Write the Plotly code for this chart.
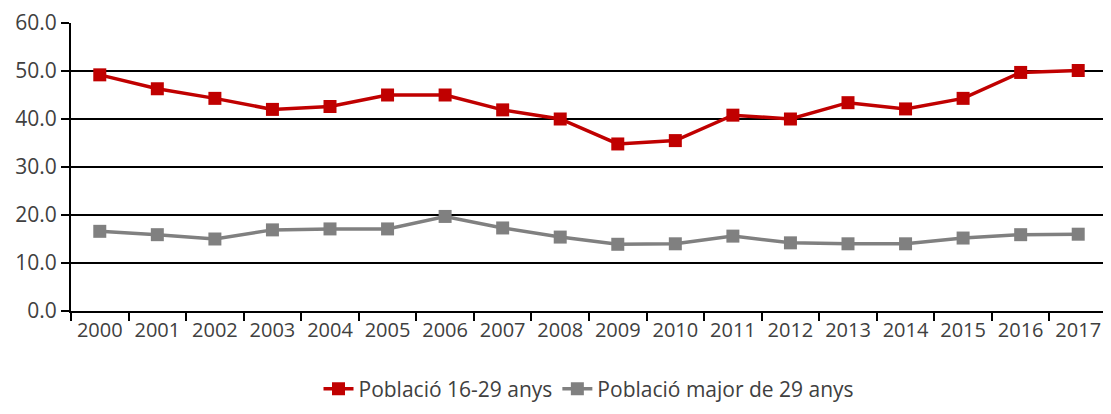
import plotly.graph_objects as go

years = [str(y) for y in range(2000, 2018)]
young = [49.2, 46.3, 44.3, 42.0, 42.6, 45.0, 45.0, 41.9, 40.0, 34.8, 35.5, 40.8, 40.0, 43.4, 42.1, 44.3, 49.7, 50.1]
older = [16.6, 15.9, 15.0, 16.9, 17.1, 17.1, 19.7, 17.3, 15.4, 13.9, 14.0, 15.6, 14.2, 14.0, 14.0, 15.2, 15.9, 16.0]
y_ticks = [0, 10, 20, 30, 40, 50, 60]

fig = go.Figure()
fig.add_trace(go.Scatter(x=years, y=young, mode="lines+markers", name="Població 16-29 anys",
                         line=dict(color="#C00000", width=3.5),
                         marker=dict(symbol="square", size=13, color="#C00000")))
fig.add_trace(go.Scatter(x=years, y=older, mode="lines+markers", name="Població major de 29 anys",
                         line=dict(color="#808080", width=3.5),
                         marker=dict(symbol="square", size=13, color="#808080")))

fig.update_layout(
    width=1111, height=414,
    margin=dict(l=63, r=12, t=15, b=104),
    plot_bgcolor="white", paper_bgcolor="white",
    font=dict(family="Open Sans, sans-serif", size=21, color="#404040"),
    legend=dict(orientation="h", x=0.5, xanchor="center", y=-0.2, yanchor="top",
                font=dict(size=21, color="#404040"), itemwidth=30),
    showlegend=True,
)
fig.update_xaxes(type="category", range=[-0.5, 17.5], tickson="boundaries", ticks="outside", ticklen=8,
                 tickcolor="black", tickwidth=2, showline=True, linecolor="black", linewidth=2,
                 showgrid=False, tickangle=0, tickfont=dict(size=20, color="#404040"), automargin=False)
fig.update_yaxes(range=[0, 60], tickvals=y_ticks, ticktext=[f"{v:.1f}" for v in y_ticks],
                 ticks="outside", ticklen=8, tickcolor="black", tickwidth=2,
                 showline=True, linecolor="black", linewidth=2, ticklabeloverflow="allow",
                 showgrid=True, gridcolor="black", gridwidth=2, zeroline=False,
                 tickfont=dict(size=21, color="#404040"), automargin=False)
fig.add_shape(type="line", xref="paper", yref="paper", x0=1, x1=1, y0=0, y1=1,
              line=dict(color="#BFBFBF", width=1.5))

fig.write_html("out.html")
